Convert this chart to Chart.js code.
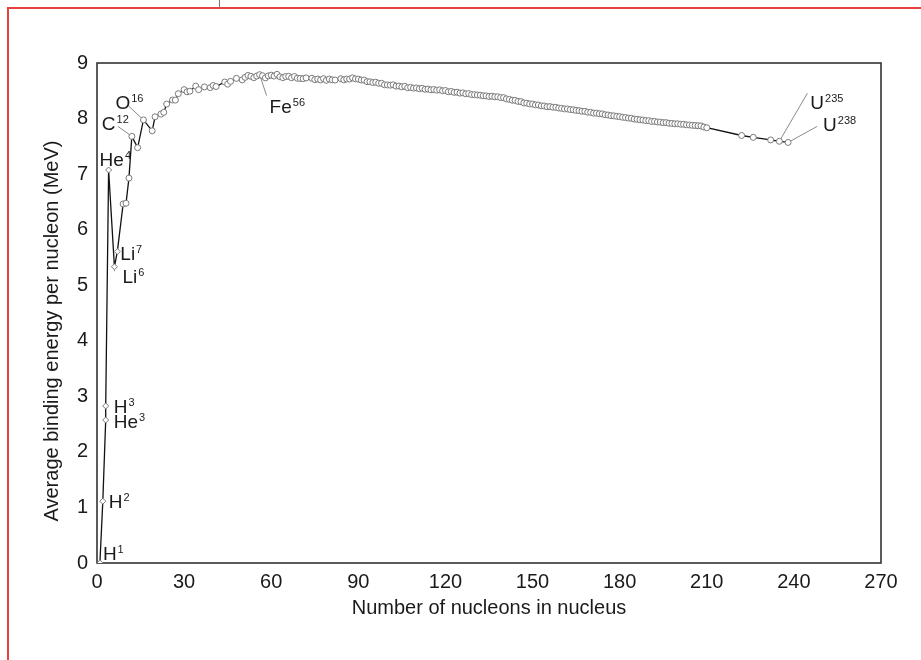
<!DOCTYPE html>
<html>
<head>
<meta charset="utf-8">
<script src="https://cdn.jsdelivr.net/npm/chart.js@4.4.1/dist/chart.umd.min.js"></script>
<style>
  html, body { margin: 0; padding: 0; background: #fff; overflow: hidden; }
  #wrap { position: relative; width: 921px; height: 660px; }
  #frame { position: absolute; left: 7px; top: 7px; width: 1000px; height: 1000px; border: 2px solid #e8423f; }
  #notch { position: absolute; left: 219px; top: 0; width: 1px; height: 8px; background: #777; }
  canvas { position: absolute; left: 0; top: 0; }
</style>
</head>
<body>
<div id="wrap">
  <div id="frame"></div>
  <div id="notch"></div>
  <canvas id="bindingChart" width="921" height="660"></canvas>
</div>
<script>
// mass number A of each nuclide
const massNumbers = [
  1, 2, 3, 3, 4, 6, 7, 9, 10, 11, 12, 14, 16, 19, 20, 22, 23, 24, 26, 27, 28, 30, 31, 32, 34, 35, 37, 39, 40, 41,
  44, 45, 46, 48, 50, 51, 52, 53, 54, 55, 56, 57, 58, 59, 60, 61, 62, 63, 64, 65, 66, 67, 68, 69, 70, 71, 72, 74,
  75, 76, 77, 78, 79, 80, 81, 82, 84, 85, 86, 87, 88, 89, 90, 91, 92, 93, 94, 95, 96, 97, 98, 99, 100, 101, 102,
  103, 104, 105, 106, 107, 108, 109, 110, 111, 112, 113, 114, 115, 116, 117, 118, 119, 120, 121, 122, 123, 124,
  125, 126, 127, 128, 129, 130, 131, 132, 133, 134, 135, 136, 137, 138, 139, 140, 141, 142, 143, 144, 145, 146,
  147, 148, 149, 150, 151, 152, 153, 154, 155, 156, 157, 158, 159, 160, 161, 162, 163, 164, 165, 166, 167, 168,
  169, 170, 171, 172, 173, 174, 175, 176, 177, 178, 179, 180, 181, 182, 183, 184, 185, 186, 187, 188, 189, 190,
  191, 192, 193, 194, 195, 196, 197, 198, 199, 200, 201, 202, 203, 204, 205, 206, 207, 208, 209, 210,
  222, 226, 232, 235, 238
];

// average binding energy per nucleon (MeV)
const bindingEnergy = [
  0, 1.112, 2.573, 2.827, 7.074, 5.332, 5.606, 6.463, 6.475, 6.928, 7.680, 7.476, 7.976, 7.779, 8.032, 8.080, 8.112,
  8.261, 8.334, 8.332, 8.448, 8.521, 8.481, 8.493, 8.584, 8.520, 8.570, 8.557, 8.595, 8.576,
  8.658, 8.619, 8.669, 8.723, 8.696, 8.742, 8.776, 8.760, 8.736, 8.765, 8.790, 8.770, 8.732, 8.768, 8.781, 8.765,
  8.795, 8.752, 8.736, 8.757, 8.760, 8.734, 8.756, 8.725, 8.722, 8.718, 8.732, 8.725,
  8.701, 8.711, 8.695, 8.718, 8.688, 8.711, 8.696, 8.693, 8.717, 8.697, 8.712, 8.711, 8.733, 8.714, 8.710, 8.693,
  8.693, 8.664, 8.662, 8.649, 8.654, 8.635, 8.635, 8.608, 8.605, 8.601, 8.607,
  8.584, 8.585, 8.571, 8.580, 8.554, 8.561, 8.548, 8.551, 8.537, 8.545, 8.527, 8.531, 8.517, 8.523, 8.510, 8.517,
  8.500, 8.505, 8.482, 8.488, 8.472, 8.474,
  8.458, 8.463, 8.445, 8.449, 8.431, 8.430, 8.424, 8.421, 8.410, 8.408, 8.398, 8.402, 8.392, 8.393, 8.378, 8.376,
  8.354, 8.346, 8.330, 8.327, 8.309, 8.304,
  8.281, 8.277, 8.263, 8.262, 8.246, 8.244, 8.229, 8.227, 8.213, 8.215, 8.204, 8.202, 8.189, 8.184, 8.173, 8.173,
  8.162, 8.158, 8.147, 8.142, 8.132, 8.130,
  8.115, 8.112, 8.098, 8.097, 8.087, 8.084, 8.069, 8.064, 8.052, 8.049, 8.039, 8.035, 8.023, 8.018, 8.008, 8.005,
  7.991, 7.987, 7.978, 7.973, 7.963, 7.962,
  7.948, 7.948, 7.938, 7.936, 7.927, 7.927, 7.916, 7.912, 7.905, 7.906, 7.897, 7.897, 7.887, 7.885, 7.878, 7.875,
  7.870, 7.868, 7.848, 7.835,
  7.695, 7.662, 7.615, 7.591, 7.570
];

const xTicks = [0, 30, 60, 90, 120, 150, 180, 210, 240, 270];
const yTicks = [0, 1, 2, 3, 4, 5, 6, 7, 8, 9];
const xTitle = 'Number of nucleons in nucleus';
const yTitle = 'Average binding energy per nucleon (MeV)';

// labelled nuclides: element, mass number, which occurrence of that mass number
const labelElements = ['H', 'H', 'He', 'H', 'He', 'Li', 'Li', 'C', 'O', 'Fe', 'U', 'U'];
const labelMass     = [1, 2, 3, 3, 4, 6, 7, 12, 16, 56, 235, 238];
const labelNth      = [0, 0, 0, 1, 0, 0, 0, 0, 0, 0, 0, 0];

// where each label sits relative to its point (px), and optional leader line end
const labelPlacement = {
  H1:   { dx: 3,   dy: -3 },
  H2:   { dx: 6,   dy: 7 },
  He3:  { dx: 8,   dy: 8 },
  H3:   { dx: 8,   dy: 7 },
  He4:  { dx: -9,  dy: -4 },
  Li6:  { dx: 8,   dy: 16 },
  Li7:  { dx: 3,   dy: 8 },
  C12:  { dx: -30, dy: -6,  lead: [-14, -10] },
  O16:  { dx: -28, dy: -11, lead: [-15, -14] },
  Fe56: { dx: 10,  dy: 38,  lead: [7, 21] },
  U235: { dx: 31,  dy: -32, lead: [28, -48] },
  U238: { dx: 35,  dy: -11, lead: [29, -16] }
};

const FONT = '"Liberation Sans", Arial, sans-serif';
const INK = '#1a1a1a';

function pointIndex(mass, nth) {
  let seen = 0;
  for (let i = 0; i < massNumbers.length; i++) {
    if (massNumbers[i] === mass) {
      if (seen === nth) return i;
      seen++;
    }
  }
  return -1;
}

const isotopePlugin = {
  id: 'isotopes',
  beforeDatasetsDraw(chart) {
    const { ctx, chartArea: a, scales } = chart;
    ctx.save();
    // frame round the plot
    ctx.strokeStyle = '#333';
    ctx.lineWidth = 1.6;
    ctx.strokeRect(a.left, a.top, a.right - a.left, a.bottom - a.top);
    // leader lines
    ctx.strokeStyle = '#8a8a8a';
    ctx.lineWidth = 1;
    labelElements.forEach((el, k) => {
      const p = labelPlacement[el + labelMass[k]];
      if (!p.lead) return;
      const i = pointIndex(labelMass[k], labelNth[k]);
      const x = scales.x.getPixelForValue(massNumbers[i]);
      const y = scales.y.getPixelForValue(bindingEnergy[i]);
      ctx.beginPath();
      ctx.moveTo(x, y);
      ctx.lineTo(x + p.lead[0], y + p.lead[1]);
      ctx.stroke();
    });
    ctx.restore();
  },
  afterDraw(chart) {
    const { ctx, chartArea: a, scales } = chart;
    ctx.save();
    ctx.fillStyle = INK;
    labelElements.forEach((el, k) => {
      const p = labelPlacement[el + labelMass[k]];
      const i = pointIndex(labelMass[k], labelNth[k]);
      const x = scales.x.getPixelForValue(massNumbers[i]) + p.dx;
      const y = scales.y.getPixelForValue(bindingEnergy[i]) + p.dy;
      ctx.font = '19px ' + FONT;
      ctx.textAlign = 'left';
      ctx.textBaseline = 'alphabetic';
      ctx.fillText(el, x, y);
      const w = ctx.measureText(el).width;
      ctx.font = '11px ' + FONT;
      ctx.fillText(String(labelMass[k]), x + w + 1, y - 7);
    });
    // axis titles
    ctx.font = '20px ' + FONT;
    ctx.textAlign = 'center';
    ctx.textBaseline = 'middle';
    ctx.fillText(xTitle, (a.left + a.right) / 2, 608);
    ctx.translate(52, 331);
    ctx.rotate(-Math.PI / 2);
    ctx.fillText(yTitle, 0, 0);
    ctx.restore();
  }
};

const points = massNumbers.map((m, i) => ({ x: m, y: bindingEnergy[i] }));

new Chart(document.getElementById('bindingChart'), {
  type: 'scatter',
  data: {
    datasets: [{
      data: points,
      showLine: true,
      borderColor: '#111',
      borderWidth: 1.3,
      pointRadius: 3,
      pointBorderWidth: 1,
      pointBorderColor: '#7a7a7a',
      pointBackgroundColor: '#fff',
      pointStyle: ctx => (ctx.dataIndex < 7 ? 'rectRot' : 'circle'),
      tension: 0
    }]
  },
  options: {
    responsive: false,
    animation: false,
    layout: { padding: { top: 63, right: 40, left: 0, bottom: 0 } },
    plugins: { legend: { display: false }, tooltip: { enabled: false } },
    scales: {
      x: {
        type: 'linear',
        min: xTicks[0],
        max: xTicks[xTicks.length - 1],
        afterBuildTicks: s => { s.ticks = xTicks.map(v => ({ value: v })); },
        afterFit: s => { s.height = 97; },
        grid: { display: false, drawTicks: false },
        border: { display: false },
        ticks: { padding: 7, color: INK, font: { family: FONT, size: 20 }, maxRotation: 0 }
      },
      y: {
        type: 'linear',
        min: yTicks[0],
        max: yTicks[yTicks.length - 1],
        afterBuildTicks: s => { s.ticks = yTicks.map(v => ({ value: v })); },
        afterFit: s => { s.width = 97; },
        grid: { display: false, drawTicks: false },
        border: { display: false },
        ticks: { padding: 9, color: INK, font: { family: FONT, size: 20 } }
      }
    }
  },
  plugins: [isotopePlugin]
});
</script>
</body>
</html>
